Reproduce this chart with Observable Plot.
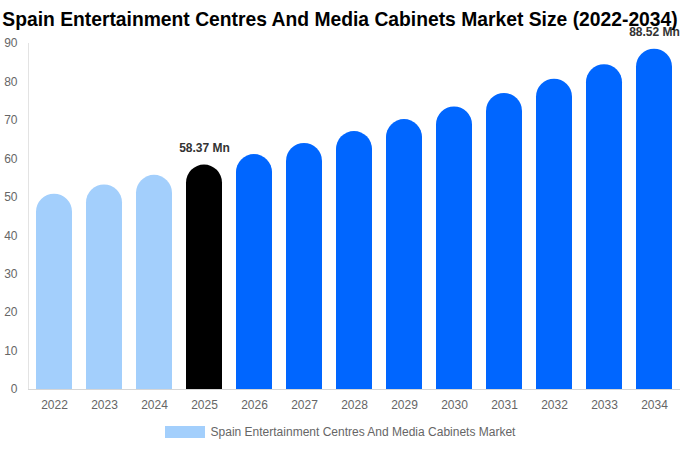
<!DOCTYPE html>
<html>
<head>
<meta charset="utf-8">
<script src="https://cdn.jsdelivr.net/npm/d3@7"></script>
<script src="https://cdn.jsdelivr.net/npm/@observablehq/plot@0.6"></script>
<style>
  html, body { margin: 0; padding: 0; background: #fff; }
  body { width: 680px; height: 450px; position: relative; overflow: hidden; font-family: "Liberation Sans", Arial, sans-serif; }
  #title { position: absolute; left: 0; width: 680px; top: 6px; text-align: center; font-size: 19.3px; font-weight: bold; color: #000; white-space: nowrap; line-height: 28px; z-index: 2; }
  #chart { position: absolute; left: 0; top: 0; }
  #legend { position: absolute; top: 425px; left: 0; width: 680px; display: flex; justify-content: center; align-items: center; font-size: 12px; color: #666; }
  #legend .sw { width: 40px; height: 12px; background: #a3cffc; margin-right: 6px; }
</style>
</head>
<body>
<div id="title">Spain Entertainment Centres And Media Cabinets Market Size (2022-2034)</div>
<div id="chart"></div>
<div id="legend"><span class="sw"></span><span>Spain Entertainment Centres And Media Cabinets Market</span></div>
<script>
const years = [2022, 2023, 2024, 2025, 2026, 2027, 2028, 2029, 2030, 2031, 2032, 2033, 2034];
const values = [50.8, 53.2, 55.7, 58.37, 61.1, 64.0, 67.1, 70.2, 73.5, 77.0, 80.7, 84.5, 88.52];
const labelled = [
  { year: 2025, value: 58.37, text: "58.37 Mn" },
  { year: 2034, value: 88.52, text: "88.52 Mn" }
];
const yTicks = [0, 10, 20, 30, 40, 50, 60, 70, 80, 90];

const data = years.map((y, i) => ({ year: y, value: values[i] }));
const colorOf = (y) => y < 2025 ? "#a3cffc" : (y === 2025 ? "#000000" : "#0066ff");

const plot = Plot.plot({
  width: 680,
  height: 420,
  marginTop: 43,
  marginBottom: 31,
  marginLeft: 28,
  marginRight: 0,
  style: { fontFamily: "Liberation Sans, Arial, sans-serif", fontSize: "12px", color: "#666", background: "transparent" },
  x: { type: "band", domain: years, paddingInner: 0.28, paddingOuter: 0.14, label: null },
  y: { domain: [0, 90], label: null },
  marks: [
    Plot.frame({ anchor: "left", stroke: "#e3e3e3" }),
    Plot.barY(data, { x: "year", y: "value", fill: d => colorOf(d.year), ry1: 18 }),
    Plot.ruleY([0], { stroke: "#d6d6d6" }),
    Plot.axisX({ ticks: years, tickSize: 0, tickPadding: 11, tickFormat: d => String(d), fill: "#666", fontSize: 12 }),
    Plot.axisY({ ticks: yTicks, tickSize: 0, tickPadding: 11, fill: "#666", fontSize: 12 }),
    Plot.text(labelled, { x: "year", y: "value", text: "text", dy: -17, fontWeight: "bold", fontSize: 12, fill: "#333" })
  ]
});
document.getElementById("chart").appendChild(plot);
</script>
</body>
</html>
